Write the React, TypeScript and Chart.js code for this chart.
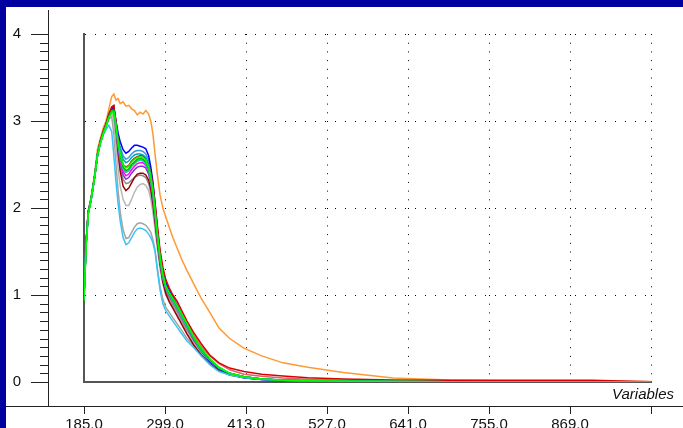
import React, { useEffect, useRef } from "react";
import { Chart, registerables } from "chart.js";

Chart.register(...registerables);

// Wavelengths (x values shared by every spectrum)
const WAVE = [
  185, 188, 191, 195, 200, 204, 208, 212, 216, 220,
  224, 227, 230, 233, 236, 240, 244, 248, 252, 256,
  260, 264, 268, 272, 276, 279, 282, 285, 288, 292,
  296, 300, 305, 310, 316, 322, 330, 340, 350, 362,
  375, 390, 410, 435, 465, 500, 550, 620, 700, 800, 900, 983,
];

const X_TICKS = [185, 299, 413, 527, 641, 755, 869, 983];
const Y_TICKS = [0, 1, 2, 3, 4];
const X_TITLE = "Variables";

const ORANGE = [
  1.02, 1.62, 1.98, 2.12, 2.4, 2.68, 2.8, 2.92, 3.0, 3.14,
  3.28, 3.31, 3.24, 3.26, 3.2, 3.22, 3.17, 3.18, 3.14, 3.12,
  3.07, 3.1, 3.08, 3.12, 3.08, 3.0, 2.85, 2.62, 2.4, 2.15,
  2.0, 1.9, 1.78, 1.66, 1.54, 1.42, 1.28, 1.12, 0.96, 0.8,
  0.62, 0.5, 0.39, 0.3, 0.22, 0.17, 0.11, 0.045, 0.022, 0.012, 0.008, 0.005,
];
const BLUE = [
  0.98, 1.58, 1.94, 2.1, 2.36, 2.6, 2.75, 2.85, 2.95, 3.06,
  3.14, 3.15, 3.0, 2.86, 2.76, 2.67, 2.63, 2.65, 2.69, 2.72,
  2.72, 2.71, 2.7, 2.68, 2.6, 2.47, 2.3, 2.05, 1.78, 1.48,
  1.27, 1.14, 1.05, 0.97, 0.88, 0.78, 0.65, 0.49, 0.36, 0.24,
  0.15, 0.09, 0.05, 0.03, 0.018, 0.011, 0.007, 0.004, 0.003, 0.002, 0.001, 0,
];
const LIGHT_BLUE = [
  1.0, 1.6, 1.95, 2.1, 2.37, 2.61, 2.76, 2.86, 2.95, 3.05,
  3.12, 3.12, 2.97, 2.8, 2.7, 2.6, 2.56, 2.58, 2.62, 2.65,
  2.66, 2.66, 2.65, 2.62, 2.55, 2.42, 2.25, 2.0, 1.74, 1.45,
  1.25, 1.12, 1.03, 0.96, 0.88, 0.78, 0.66, 0.5, 0.37, 0.25,
  0.16, 0.1, 0.06, 0.035, 0.02, 0.012, 0.008, 0.005, 0.003, 0.002, 0.001, 0,
];
const TEAL = [
  0.97, 1.59, 1.95, 2.11, 2.36, 2.62, 2.75, 2.86, 2.94, 3.04,
  3.11, 3.12, 2.96, 2.78, 2.66, 2.56, 2.52, 2.54, 2.58, 2.61,
  2.62, 2.62, 2.61, 2.58, 2.5, 2.38, 2.22, 1.98, 1.72, 1.43,
  1.23, 1.1, 1.02, 0.95, 0.87, 0.77, 0.65, 0.5, 0.37, 0.25,
  0.16, 0.1, 0.06, 0.035, 0.02, 0.012, 0.008, 0.005, 0.003, 0.002, 0.001, 0,
];
const GREEN = [
  1.0, 1.6, 1.95, 2.1, 2.36, 2.62, 2.76, 2.86, 2.95, 3.05,
  3.12, 3.12, 2.95, 2.75, 2.6, 2.47, 2.43, 2.45, 2.5, 2.53,
  2.56, 2.57, 2.56, 2.53, 2.45, 2.33, 2.18, 1.95, 1.7, 1.42,
  1.22, 1.1, 1.02, 0.95, 0.87, 0.78, 0.66, 0.5, 0.38, 0.26,
  0.17, 0.1, 0.06, 0.035, 0.02, 0.012, 0.008, 0.005, 0.003, 0.002, 0.001, 0,
];
const LIME = [
  0.93, 1.55, 1.92, 2.09, 2.35, 2.6, 2.74, 2.85, 2.94, 3.04,
  3.1, 3.1, 2.94, 2.76, 2.62, 2.5, 2.46, 2.48, 2.53, 2.56,
  2.58, 2.59, 2.58, 2.55, 2.47, 2.35, 2.2, 1.97, 1.72, 1.44,
  1.24, 1.11, 1.03, 0.96, 0.88, 0.79, 0.67, 0.51, 0.39, 0.27,
  0.17, 0.1, 0.06, 0.035, 0.02, 0.013, 0.009, 0.006, 0.004, 0.003, 0.002, 0.001,
];
const SPRING = [
  0.96, 1.58, 1.94, 2.1, 2.36, 2.61, 2.75, 2.85, 2.94, 3.04,
  3.11, 3.11, 2.93, 2.73, 2.58, 2.45, 2.41, 2.43, 2.48, 2.51,
  2.54, 2.55, 2.54, 2.51, 2.43, 2.31, 2.16, 1.93, 1.68, 1.4,
  1.2, 1.08, 1.0, 0.93, 0.85, 0.76, 0.64, 0.49, 0.36, 0.25,
  0.16, 0.1, 0.06, 0.035, 0.02, 0.012, 0.008, 0.005, 0.004, 0.003, 0.002, 0.001,
];
const RED = [
  1.01, 1.61, 1.96, 2.11, 2.37, 2.62, 2.77, 2.87, 2.96, 3.07,
  3.15, 3.17, 3.0, 2.78, 2.62, 2.5, 2.47, 2.49, 2.54, 2.57,
  2.59, 2.6, 2.6, 2.57, 2.5, 2.4, 2.27, 2.06, 1.82, 1.52,
  1.32, 1.18, 1.08, 1.0, 0.93, 0.83, 0.7, 0.56, 0.44, 0.31,
  0.22, 0.16, 0.12, 0.09, 0.07, 0.05, 0.035, 0.022, 0.02, 0.02, 0.02, 0.003,
];
const PINK_RED = [
  0.99, 1.6, 1.95, 2.1, 2.36, 2.61, 2.75, 2.86, 2.95, 3.05,
  3.13, 3.14, 2.97, 2.75, 2.58, 2.45, 2.41, 2.43, 2.48, 2.52,
  2.54, 2.55, 2.55, 2.52, 2.45, 2.35, 2.21, 2.0, 1.76, 1.47,
  1.28, 1.15, 1.06, 0.98, 0.9, 0.8, 0.68, 0.53, 0.41, 0.3,
  0.21, 0.14, 0.09, 0.065, 0.045, 0.032, 0.02, 0.012, 0.008, 0.006, 0.004, 0.002,
];
const DARK_RED = [
  1.0, 1.6, 1.95, 2.1, 2.36, 2.62, 2.77, 2.88, 2.97, 3.08,
  3.16, 3.18, 2.95, 2.65, 2.42, 2.25, 2.2, 2.23, 2.29, 2.35,
  2.39, 2.4, 2.4, 2.38, 2.32, 2.22, 2.06, 1.85, 1.62, 1.36,
  1.15, 1.02, 0.92, 0.85, 0.76, 0.67, 0.55, 0.42, 0.31, 0.21,
  0.13, 0.08, 0.05, 0.03, 0.02, 0.013, 0.009, 0.006, 0.004, 0.003, 0.002, 0,
];
const MAGENTA = [
  0.98, 1.59, 1.94, 2.1, 2.36, 2.61, 2.76, 2.86, 2.95, 3.06,
  3.13, 3.14, 2.95, 2.72, 2.55, 2.42, 2.37, 2.39, 2.44, 2.48,
  2.51, 2.52, 2.52, 2.49, 2.42, 2.3, 2.15, 1.93, 1.68, 1.4,
  1.2, 1.08, 1.0, 0.93, 0.85, 0.76, 0.64, 0.49, 0.37, 0.25,
  0.16, 0.1, 0.06, 0.035, 0.02, 0.012, 0.008, 0.005, 0.003, 0.002, 0.001, 0,
];
const PURPLE = [
  0.99, 1.6, 1.95, 2.1, 2.36, 2.61, 2.76, 2.86, 2.95, 3.05,
  3.12, 3.13, 2.93, 2.7, 2.52, 2.38, 2.33, 2.35, 2.4, 2.44,
  2.47, 2.48, 2.48, 2.46, 2.39, 2.28, 2.13, 1.91, 1.66, 1.39,
  1.19, 1.07, 0.99, 0.92, 0.84, 0.75, 0.63, 0.48, 0.36, 0.24,
  0.15, 0.09, 0.055, 0.032, 0.019, 0.011, 0.007, 0.005, 0.003, 0.002, 0.001, 0,
];
const GRAY = [
  1.0, 1.6, 1.95, 2.1, 2.36, 2.61, 2.75, 2.86, 2.95, 3.05,
  3.12, 3.08, 2.85, 2.6, 2.45, 2.33, 2.28, 2.29, 2.32, 2.35,
  2.37, 2.38, 2.37, 2.35, 2.28, 2.18, 2.02, 1.82, 1.6, 1.35,
  1.16, 1.04, 0.96, 0.89, 0.81, 0.72, 0.6, 0.47, 0.35, 0.24,
  0.16, 0.1, 0.06, 0.035, 0.022, 0.014, 0.009, 0.006, 0.004, 0.003, 0.002, 0,
];
const LIGHT_GRAY = [
  0.99, 1.6, 1.95, 2.1, 2.36, 2.61, 2.75, 2.85, 2.94, 3.04,
  3.1, 3.0, 2.7, 2.45, 2.25, 2.1, 2.03, 2.03, 2.1, 2.18,
  2.24, 2.27, 2.28, 2.26, 2.2, 2.1, 1.95, 1.75, 1.55, 1.3,
  1.12, 1.0, 0.93, 0.86, 0.78, 0.7, 0.58, 0.45, 0.34, 0.23,
  0.15, 0.09, 0.055, 0.035, 0.022, 0.014, 0.009, 0.006, 0.004, 0.003, 0.002, 0,
];
const SILVER = [
  0.97, 1.58, 1.94, 2.1, 2.36, 2.61, 2.75, 2.85, 2.93, 3.02,
  3.05, 2.85, 2.5, 2.2, 1.95, 1.75, 1.65, 1.66, 1.72, 1.78,
  1.82, 1.83, 1.82, 1.8, 1.76, 1.72, 1.64, 1.52, 1.32, 1.1,
  0.95, 0.86, 0.8, 0.74, 0.67, 0.6, 0.5, 0.41, 0.32, 0.22,
  0.14, 0.09, 0.055, 0.035, 0.022, 0.014, 0.009, 0.006, 0.004, 0.003, 0.002, 0,
];
const CYAN = [
  0.95, 1.57, 1.93, 2.1, 2.36, 2.62, 2.74, 2.84, 2.9, 2.95,
  2.88, 2.6, 2.3, 2.05, 1.85, 1.66, 1.58, 1.6, 1.66, 1.72,
  1.76, 1.77, 1.76, 1.74, 1.7, 1.66, 1.6, 1.5, 1.3, 1.06,
  0.9, 0.82, 0.76, 0.7, 0.63, 0.56, 0.47, 0.39, 0.3, 0.2,
  0.12, 0.08, 0.05, 0.03, 0.02, 0.012, 0.008, 0.005, 0.004, 0.003, 0.002, 0,
];

// drawing order: first entry is painted on top
const SERIES: [string, string, number[]][] = [
  ["Lime", "#00ff00", LIME],
  ["Green", "#00b800", GREEN],
  ["Spring", "#10d890", SPRING],
  ["Cyan", "#38c4f4", CYAN],
  ["Teal", "#00a8b0", TEAL],
  ["Red", "#dc0000", RED],
  ["Blue", "#0000ff", BLUE],
  ["LightBlue", "#3c96e6", LIGHT_BLUE],
  ["Magenta", "#ff00ff", MAGENTA],
  ["Purple", "#8a2be2", PURPLE],
  ["DarkRed", "#9a0000", DARK_RED],
  ["PinkRed", "#e06070", PINK_RED],
  ["Gray", "#8c8c8c", GRAY],
  ["LightGray", "#b8b8b8", LIGHT_GRAY],
  ["Silver", "#a4a4a4", SILVER],
  ["Orange", "#ff9933", ORANGE],
];

const FONT = '"Liberation Sans", Arial, sans-serif';

const framePlugin = {
  id: "framePlugin",
  beforeDraw(chart: any) {
    const { ctx, width, height } = chart;
    ctx.save();
    ctx.fillStyle = "#ffffff";
    ctx.fillRect(0, 0, width, height);
    ctx.fillStyle = "#0000a0";
    ctx.fillRect(0, 0, width, 7);
    ctx.fillRect(0, 0, 6, height);
    ctx.restore();
  },
  afterDraw(chart: any) {
    const { ctx, width } = chart;
    const xs = chart.scales.x;
    const ys = chart.scales.y;
    const axX = 48;
    const axY = 406;
    ctx.save();
    ctx.fillStyle = "#222222";
    // outer axis lines
    ctx.fillRect(axX, 10, 1, axY - 10 + 1);
    ctx.fillRect(6, axY, width - 6, 1);
    // y ticks (major + minor)
    for (let i = 0; i <= 40; i++) {
      const py = Math.round(ys.getPixelForValue(i / 10));
      const major = i % 10 === 0;
      const x0 = major ? 31 : 40;
      ctx.fillRect(x0, py, axX - x0, 1);
    }
    // x ticks
    for (const v of X_TICKS) {
      const px = Math.round(xs.getPixelForValue(v));
      ctx.fillRect(px, axY, 1, 8);
    }
    ctx.font = "italic 15px " + FONT;
    ctx.textAlign = "right";
    ctx.textBaseline = "alphabetic";
    ctx.fillStyle = "#111111";
    ctx.fillText(X_TITLE, 674, 399);
    ctx.restore();
  },
};

export default function App() {
  const ref = useRef<HTMLCanvasElement | null>(null);

  useEffect(() => {
    if (!ref.current) return;
    const chart = new Chart(ref.current, {
      type: "line",
      data: {
        datasets: SERIES.map(([label, color, values]) => ({
          label,
          data: WAVE.map((x, i) => ({ x, y: values[i] })),
          borderColor: color,
          backgroundColor: color,
          borderWidth: 1.5,
          pointRadius: 0,
          tension: 0,
          fill: false,
        })),
      },
      options: {
        animation: false,
        responsive: false,
        devicePixelRatio: 1,
        layout: { padding: { top: 34, right: 32, left: 0, bottom: 0 } },
        plugins: {
          legend: { display: false },
          tooltip: { enabled: false },
        },
        scales: {
          x: {
            type: "linear",
            min: 185,
            max: 983,
            afterFit: (s: any) => {
              s.height = 46;
            },
            afterBuildTicks: (s: any) => {
              s.ticks = X_TICKS.map((v) => ({ value: v }));
            },
            grid: {
              color: (c: any) => (c.tick && c.tick.value === 185 ? "rgba(0,0,0,0)" : "#000000"),
              lineWidth: 1,
              drawTicks: true,
              tickLength: 32,
              tickColor: "rgba(0,0,0,0)",
            },
            border: { display: true, color: "#555555", width: 2, dash: [1, 7.7] },
            ticks: {
              autoSkip: false,
              maxRotation: 0,
              padding: 2,
              color: "#111111",
              font: { family: FONT, size: 15 },
              callback: (v: any) => (Number(v) === 983 ? "" : Number(v).toFixed(1)),
            },
          },
          y: {
            type: "linear",
            min: 0,
            max: 4,
            afterFit: (s: any) => {
              s.width = 84;
            },
            afterBuildTicks: (s: any) => {
              s.ticks = Y_TICKS.map((v) => ({ value: v }));
            },
            grid: {
              color: (c: any) => (c.tick && c.tick.value === 0 ? "rgba(0,0,0,0)" : "#000000"),
              lineWidth: 1,
              drawTicks: true,
              tickLength: 60,
              tickColor: "rgba(0,0,0,0)",
            },
            border: { display: true, color: "#555555", width: 2, dash: [1, 9] },
            ticks: {
              padding: 3,
              color: "#111111",
              font: { family: FONT, size: 15 },
              callback: (v: any) => String(v),
            },
          },
        },
      },
      plugins: [framePlugin],
    });
    return () => chart.destroy();
  }, []);

  return (
    <div style={{ position: "fixed", left: 0, top: 0, width: 683, height: 428, background: "#fff" }}>
      <canvas ref={ref} width={683} height={428} style={{ display: "block", width: 683, height: 428 }} />
    </div>
  );
}
